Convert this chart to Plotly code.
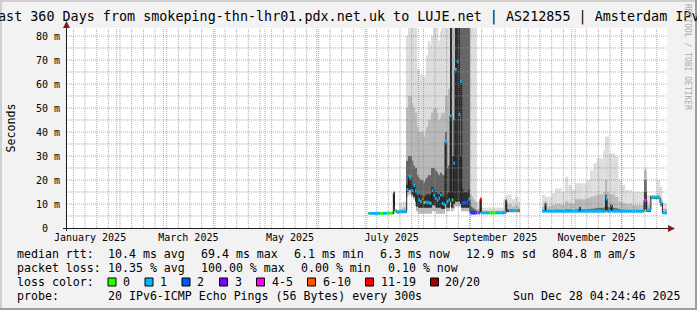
import plotly.graph_objects as go
import pandas as pd

# ---------------- canvas / layout constants ----------------
W, H = 697, 310
ML, MR, MT, MB = 67, 30, 28, 82
PW = W - ML - MR   # 600 px plot width
PH = H - MT - MB   # 200 px plot height
FONT = "DejaVu Sans Mono"

T_START = "2025-01-02 04:24:46"
T_END = "2025-12-28 04:24:46"
Y_TOP = 83.333  # ms

TITLE = "Last 360 Days from smokeping-thn-lhr01.pdx.net.uk to LUJE.net | AS212855 | Amsterdam IPv6"
Y_TITLE = "Seconds"
WATERMARK = "RRDTOOL / TOBI OETIKER"

# ---------------- axis ticks ----------------
X_LABEL_DATES = ["2025-01-16", "2025-03-16", "2025-05-16", "2025-07-16", "2025-09-16", "2025-11-16"]
X_LABELS = ["January 2025", "March 2025", "May 2025", "July 2025", "September 2025", "November 2025"]
Y_TICKS = [0, 10, 20, 30, 40, 50, 60, 70, 80]
Y_LABELS = ["0\u00a0\u00a0", "10 m", "20 m", "30 m", "40 m", "50 m", "60 m", "70 m", "80 m"]
Y_MINOR = [5, 15, 25, 35, 45, 55, 65, 75]

# ---------------- data (per time bin, ms) ----------------
BIN_START = [
    "2025-07-02 06:00", "2025-07-03", "2025-07-05", "2025-07-07", "2025-07-09", "2025-07-11",
    "2025-07-13", "2025-07-15", "2025-07-16 12:00", "2025-07-17 00:00", "2025-07-17 14:00",
    "2025-07-19", "2025-07-20 12:00", "2025-07-22 12:00",
    "2025-07-24", "2025-07-25", "2025-07-26", "2025-07-27", "2025-07-28", "2025-07-29",
    "2025-07-30", "2025-07-31", "2025-08-01", "2025-08-02", "2025-08-03", "2025-08-04",
    "2025-08-05", "2025-08-06", "2025-08-07", "2025-08-08", "2025-08-09", "2025-08-10",
    "2025-08-11", "2025-08-12", "2025-08-13", "2025-08-14", "2025-08-15", "2025-08-16",
    "2025-08-17", "2025-08-18", "2025-08-19", "2025-08-20", "2025-08-21", "2025-08-22",
    "2025-08-23", "2025-08-24", "2025-08-25", "2025-08-26", "2025-08-27", "2025-08-28",
    "2025-08-29", "2025-08-30", "2025-08-31", "2025-09-01", "2025-09-02", "2025-09-03",
    "2025-09-04", "2025-09-05", "2025-09-06", "2025-09-07 00:00", "2025-09-07 16:00",
    "2025-09-10", "2025-09-12", "2025-09-14", "2025-09-16", "2025-09-17", "2025-09-19",
    "2025-09-21", "2025-09-22 12:00", "2025-09-23", "2025-09-24", "2025-09-26", "2025-09-28",
    "2025-09-30", "2025-10-01",
    "2025-10-14 04:00", "2025-10-16 00:00", "2025-10-16 14:00", "2025-10-18", "2025-10-20",
    "2025-10-22", "2025-10-24", "2025-10-26", "2025-10-28", "2025-10-30", "2025-11-01",
    "2025-11-03", "2025-11-05", "2025-11-05 18:00", "2025-11-06 06:00", "2025-11-08",
    "2025-11-10", "2025-11-12", "2025-11-14", "2025-11-16", "2025-11-18", "2025-11-20",
    "2025-11-21 12:00", "2025-11-22 06:00", "2025-11-23", "2025-11-24 12:00", "2025-11-25 06:00",
    "2025-11-27", "2025-11-29", "2025-12-01", "2025-12-03", "2025-12-05", "2025-12-07",
    "2025-12-09", "2025-12-11", "2025-12-13", "2025-12-14 10:00", "2025-12-16",
    "2025-12-18 12:00", "2025-12-19 12:00", "2025-12-22", "2025-12-24", "2025-12-25 10:00",
]
MEDIAN = [
    6.1, 6.1, 6.1, 6.1, 6.1, 6.1, 6.2, 6.2, 6.2, 14.7, 7.3, 6.7, 6.8, 6.8,
    6.8, 16.0, 21.7, 21.4, 15.6, 17.7, 15.5, 14.5, 11.7, 11.0, 12.1, 10.6,
    10.8, 10.6, 10.5, 10.3, 15.6, 13.7, 12.4, 11.5, 12.5, 13.7, 10.3, 9.9,
    36.0, 11.0, 11.7, 46.7, 11.7, 27.0, 66.0, 69.3, 47.4, 61.0, 10.5, 10.5,
    10.5, 11.0, 12.0, 6.2, 6.2, 6.2, 6.2, 6.3, 6.3, 12.0, 6.3,
    6.3, 6.3, 6.3, 6.3, 6.3, 6.3, 6.4, 11.5, 7.3, 7.3, 7.3, 7.3, 7.3, None,
    7.0, 10.4, 7.0, 7.0, 7.0, 7.0, 7.0, 7.0, 7.0, 7.0, 7.0,
    7.0, 7.0, 8.5, 7.0, 7.0, 7.0, 7.0, 7.0, 7.0, 7.0, 7.0,
    12.0, 7.0, 7.0, 9.6, 7.0, 7.0, 7.0, 7.0, 7.0, 7.0, 7.0,
    7.0, 7.0, 7.0, 11.5, 7.5, 13.0, 12.8, 12.8, 10.4, 6.3,
]
LOSS = [
    0, 1, 1, 1, 0, 1, 0, 0, 1, 1, 0, 1, 1, 1,
    1, 1, 1, 1, 1, 1, 1, 1, 1, 1, 7, 0,
    1, 1, 1, 1, 1, 1, 1, 1, 1, 1, 1, 1,
    1, 1, 1, 1, 0, 1, 1, 1, 1, 1, 2, 2,
    2, 2, 1, 2, 2, 3, 2, 1, 5, 12, 1,
    1, 0, 0, 0, 1, 1, 1, 1, 12, 1, 1, 1, 7, None,
    1, 1, 1, 1, 1, 1, 1, 1, 1, 1, 1,
    1, 1, 1, 1, 1, 1, 1, 1, 1, 1, 1,
    1, 1, 1, 1, 1, 1, 1, 1, 1, 1, 1,
    1, 1, 1, 5, 1, 0, 1, 1, 1, 1,
]
PING_MIN = [
    5.9, 5.9, 5.9, 5.9, 5.9, 5.9, 6.0, 6.0, 6.0, 6.0, 6.4, 6.2, 6.2, 6.2,
    6.2, 13, 14, 14, 13, 12, 9, 7, 6, 6, 6, 6,
    6, 6, 6, 6, 7, 7, 7, 6, 6, 6, 6, 6,
    8, 7, 7, 9, 7, 8, 9, 9, 9, 9, 7, 7,
    7, 7, 7, 5.8, 5.8, 5.8, 5.8, 5.8, 5.8, 6.0, 5.9,
    5.9, 5.9, 5.9, 5.9, 5.9, 5.9, 5.9, 6.5, 6.5, 6.5, 6.5, 6.5, 6.5, None,
    6.6, 6.6, 6.6, 6.6, 6.6, 6.6, 6.6, 6.6, 6.6, 6.6, 6.6,
    6.6, 6.6, 6.6, 6.6, 6.6, 6.6, 6.6, 6.6, 6.6, 6.6, 6.6,
    6.6, 6.6, 6.6, 6.6, 6.6, 6.6, 6.6, 6.6, 6.6, 6.6, 6.6,
    6.6, 6.6, 6.6, 6.8, 6.8, 12.0, 12.0, 12.0, 9.0, 6.0,
]
PING_MAX = [
    6.5, 6.5, 6.5, 6.5, 6.5, 6.5, 6.6, 6.6, 6.6, 15.5, 8.0, 7.5, 10.5, 11.0,
    11.0, 80, 95, 95, 95, 95, 95, 66, 66, 64, 64, 63,
    64, 72, 78, 76, 80, 95, 95, 95, 78, 82, 95, 95,
    95, 95, 95, 95, 95, 95, 95, 95, 95, 95, 95, 95,
    95, 95, 95, 95, 95, 95, 95, 11, 11, 13, 8.5,
    8.5, 8.5, 8.5, 8.5, 8.5, 8.5, 12, 13, 14, 14, 12, 13, 11, None,
    13.75, 13, 13, 13, 14.5, 16.5, 16.5, 15, 21.4, 18, 15.8,
    18.6, 18.6, 18.6, 18.6, 18.6, 20, 24, 27, 29, 29, 32.5,
    38, 38, 31, 31, 31, 29.7, 20, 18, 15.8, 15.8, 15,
    15, 15, 15, 25, 13.75, 13.75, 13.75, 20, 17.2, 10.3,
]
PING_P90 = [
    6.3, 6.3, 6.3, 6.3, 6.3, 6.3, 6.4, 6.4, 6.4, 15.0, 7.6, 7.0, 8.0, 8.5,
    8.5, 50, 55, 55, 52, 50, 48, 42, 40, 40, 40, 38,
    40, 42, 45, 45, 48, 50, 50, 48, 45, 46, 48, 48,
    55, 55, 58, 95, 95, 95, 95, 95, 95, 95, 95, 95,
    95, 95, 95, 14, 13, 12, 11, 8, 8, 12.5, 7.2,
    7.2, 7.2, 7.2, 7.2, 7.2, 7.2, 8, 12, 10, 10, 9, 9.5, 8.5, None,
    9, 11, 9, 9, 9.5, 10, 10, 9.5, 11, 10.5, 10,
    12, 12, 12, 12, 12, 12.5, 13, 13.5, 14, 14, 15,
    20, 15, 14, 14, 14, 13, 11, 10.5, 10, 10, 9.5,
    9.5, 9.5, 9.5, 24, 9.5, 13.4, 13.3, 14, 12, 8,
]
PING_P25 = [
    6.0, 6.0, 6.0, 6.0, 6.0, 6.0, 6.1, 6.1, 6.1, 9.0, 6.8, 6.4, 6.5, 6.5,
    6.5, 15, 16, 16, 14, 13, 11, 9, 8.5, 8.5, 8.5, 8.5,
    8.5, 8.5, 8.5, 8.5, 9.5, 9.5, 9, 8.5, 8.5, 8.5, 8, 8,
    10, 8.5, 8.5, 11, 8.5, 10, 11, 11, 11, 10, 8.5, 8.5,
    8.5, 8.5, 8.5, 6.1, 6.1, 6.1, 6.1, 6.0, 6.0, 7.0, 6.0,
    6.0, 6.0, 6.0, 6.0, 6.0, 6.0, 6.1, 8.0, 6.9, 6.9, 6.9, 6.9, 6.9, None,
    6.8, 7.0, 6.8, 6.8, 6.8, 6.8, 6.8, 6.8, 6.8, 6.8, 6.8,
    6.8, 6.8, 6.9, 6.8, 6.8, 6.8, 6.8, 6.8, 6.8, 6.8, 6.8,
    7.5, 6.8, 6.8, 7.2, 6.8, 6.8, 6.8, 6.8, 6.8, 6.8, 6.8,
    6.8, 6.8, 6.8, 8.0, 7.0, 12.5, 12.4, 12.4, 9.5, 6.1,
]
PING_P75 = [
    6.2, 6.2, 6.2, 6.2, 6.2, 6.2, 6.3, 6.3, 6.3, 14.9, 7.4, 6.8, 7.1, 7.2,
    7.2, 28, 30, 30, 28, 26, 25, 22, 21, 20, 20, 19,
    20, 21, 22, 22, 25, 25, 24, 23, 22, 23, 22, 22,
    40, 25, 26, 95, 30, 45, 95, 95, 95, 95, 95, 95,
    95, 95, 95, 9, 8.5, 8, 7.5, 7, 7, 12.2, 6.6,
    6.6, 6.6, 6.6, 6.6, 6.6, 6.6, 6.8, 11.7, 7.8, 7.8, 7.7, 7.7, 7.6, None,
    7.4, 10.5, 7.4, 7.4, 7.5, 7.6, 7.6, 7.5, 7.8, 7.7, 7.5,
    7.8, 7.8, 8.6, 7.8, 7.8, 7.9, 8.0, 8.2, 8.4, 8.4, 8.6,
    14, 8.8, 8.4, 9.8, 8.4, 8.2, 7.8, 7.6, 7.5, 7.5, 7.5,
    7.5, 7.5, 7.5, 20, 7.8, 13.2, 13.1, 13.2, 10.8, 6.6,
]
PING_P60 = [
    6.15, 6.15, 6.15, 6.15, 6.15, 6.15, 6.25, 6.25, 6.25, 14.8, 7.3, 6.7, 6.9, 7.0,
    7.0, 18, 20, 20, 18, 17, 16, 15, 14, 13.5, 13.5, 13,
    13.5, 14, 14, 14, 17, 16, 15, 14, 14, 15, 13, 13,
    36, 14, 15, 95, 15, 30, 95, 95, 95, 30, 16, 15,
    15, 15, 16, 7, 7, 6.8, 6.6, 6.5, 6.5, 12.1, 6.4,
    6.4, 6.4, 6.4, 6.4, 6.4, 6.4, 6.5, 11.6, 7.5, 7.5, 7.4, 7.4, 7.4, None,
    7.2, 10.4, 7.2, 7.2, 7.2, 7.2, 7.2, 7.2, 7.3, 7.3, 7.2,
    7.3, 7.3, 8.5, 7.3, 7.3, 7.3, 7.4, 7.4, 7.5, 7.5, 7.6,
    12.5, 7.6, 7.5, 9.7, 7.5, 7.4, 7.3, 7.2, 7.2, 7.2, 7.2,
    7.2, 7.2, 7.2, 15, 7.6, 13.1, 12.9, 13.0, 10.5, 6.4,
]

# ---------------- legend texts ----------------
LEG_MEDIAN = ["median rtt:", "10.4 ms avg", "69.4 ms max", "6.1 ms min", "6.3 ms now", "12.9 ms sd", "804.8 m am/s"]
LEG_LOSS = ["packet loss:", "10.35 % avg", "100.00 % max", "0.00 % min", "0.10 % now"]
LOSS_LABELS = ["0", "1", "2", "3", "4-5", "6-10", "11-19", "20/20"]
LOSS_COLORS = ["#26ff00", "#00b8ff", "#0059ff", "#7e00ff", "#ff00ff", "#ff5500", "#ff0000", "#a10000"]
PROBE = ["probe:", "20 IPv6-ICMP Echo Pings (56 Bytes) every 300s", "Sun Dec 28 04:24:46 2025"]

# ---------------- helpers ----------------
def pxx(x):
    return (x - ML) / PW


def pxy(y):
    return (MT + PH - y) / PH


def loss_index(l):
    if l <= 3:
        return l
    if l <= 5:
        return 4
    if l <= 10:
        return 5
    if l <= 19:
        return 6
    return 7


t0 = pd.to_datetime(BIN_START, format="mixed")
t1 = list(t0[1:]) + [pd.Timestamp(T_END)]
dur = [(b - a).total_seconds() * 1000.0 for a, b in zip(t0, t1)]


def band(lo, hi, color):
    base = [l if (l is not None and h is not None) else None for l, h in zip(lo, hi)]
    hgt = [(h - l) if (l is not None and h is not None) else None for l, h in zip(lo, hi)]
    return go.Bar(x=list(t0), y=hgt, base=base, width=dur, offset=0,
                  marker=dict(color=color, line=dict(width=0)),
                  hoverinfo="skip", showlegend=False)


fig = go.Figure()
# smoke: outer -> inner
fig.add_trace(band(PING_MIN, PING_MAX, "#dddddd"))
fig.add_trace(band(PING_MIN, PING_P90, "#b9b9b9"))
fig.add_trace(band(PING_P25, PING_P75, "#666666"))
fig.add_trace(band(PING_P25, PING_P60, "#2e2e2e"))

# thin dark median line (steps)
lx, ly = [], []
for i, m in enumerate(MEDIAN):
    if m is None:
        lx.append(None)
        ly.append(None)
        continue
    lx += [t0[i], t1[i]]
    ly += [m, m]
fig.add_trace(go.Scatter(x=lx, y=ly, mode="lines", line=dict(color="#202020", width=1),
                         hoverinfo="skip", showlegend=False, connectgaps=False))

# loss-coloured median band (about 3 px tall), one trace per loss class
for k, col in enumerate(LOSS_COLORS):
    sx, sy = [], []
    for i, (m, l) in enumerate(zip(MEDIAN, LOSS)):
        if m is None or l is None or loss_index(l) != k:
            continue
        sx += [t0[i], t1[i], None]
        sy += [m, m, None]
    if sx:
        fig.add_trace(go.Scatter(x=sx, y=sy, mode="lines", line=dict(color=col, width=3),
                                 hoverinfo="skip", showlegend=False, connectgaps=False))

weekly = pd.date_range("2025-01-06", "2025-12-28", freq="7D")
months = pd.date_range("2025-02-01", "2025-12-01", freq="MS")

GRID = "rgba(143,143,143,0.75)"
MGRID = "rgba(222,79,79,0.6)"

fig.update_layout(
    width=W, height=H,
    margin=dict(l=ML, r=MR, t=MT, b=MB, pad=0),
    paper_bgcolor="#f2f2f2", plot_bgcolor="#ffffff",
    barmode="overlay", showlegend=False,
    font=dict(family=FONT, size=10, color="#000000"),
    xaxis=dict(type="date", range=[T_START, T_END], tickmode="array",
               tickvals=X_LABEL_DATES, ticktext=X_LABELS,
               tickfont=dict(family=FONT, size=10, color="#000000"), ticks="",
               ticklabelstandoff=2, showgrid=False, zeroline=False, showline=False,
               fixedrange=True),
    yaxis=dict(range=[0, Y_TOP], tickmode="array", tickvals=Y_TICKS, ticktext=Y_LABELS,
               tickfont=dict(family=FONT, size=10, color="#000000"), ticks="",
               ticklabelstandoff=6, showgrid=False, zeroline=False, showline=False,
               fixedrange=True),
)

shapes = []
# grid (drawn on top of the graph, as rrdtool does)
for d in weekly:
    shapes.append(dict(type="line", xref="x", yref="paper", x0=d, x1=d, y0=0, y1=1,
                       line=dict(color=GRID, width=1, dash="1px,1px"), layer="above"))
for d in months:
    shapes.append(dict(type="line", xref="x", yref="paper", x0=d, x1=d, y0=0, y1=1,
                       line=dict(color=MGRID, width=1, dash="1px,1px"), layer="above"))
for v in Y_MINOR:
    shapes.append(dict(type="line", xref="paper", yref="y", x0=0, x1=1, y0=v, y1=v,
                       line=dict(color=GRID, width=1, dash="1px,1px"), layer="above"))
for v in Y_TICKS[1:]:
    shapes.append(dict(type="line", xref="paper", yref="y", x0=0, x1=1, y0=v, y1=v,
                       line=dict(color=MGRID, width=1, dash="1px,1px"), layer="above"))

# 3D frame
shapes.append(dict(type="rect", xref="paper", yref="paper", x0=pxx(0), x1=pxx(W), y0=pxy(0), y1=pxy(2),
                   fillcolor="#cfcfcf", line=dict(width=0), layer="below"))
shapes.append(dict(type="rect", xref="paper", yref="paper", x0=pxx(0), x1=pxx(2), y0=pxy(0), y1=pxy(H),
                   fillcolor="#cfcfcf", line=dict(width=0), layer="below"))
shapes.append(dict(type="rect", xref="paper", yref="paper", x0=pxx(0), x1=pxx(W), y0=pxy(H - 2), y1=pxy(H),
                   fillcolor="#9e9e9e", line=dict(width=0), layer="below"))
shapes.append(dict(type="rect", xref="paper", yref="paper", x0=pxx(W - 2), x1=pxx(W), y0=pxy(0), y1=pxy(H),
                   fillcolor="#9e9e9e", line=dict(width=0), layer="below"))
# axis lines
shapes.append(dict(type="line", xref="paper", yref="paper", x0=pxx(66.5), x1=pxx(66.5), y0=pxy(231), y1=pxy(24),
                   line=dict(color="#1f1f1f", width=1), layer="above"))
shapes.append(dict(type="line", xref="paper", yref="paper", x0=pxx(63), x1=pxx(670), y0=pxy(228.5), y1=pxy(228.5),
                   line=dict(color="#1f1f1f", width=1), layer="above"))
# arrows
shapes.append(dict(type="path", xref="paper", yref="paper",
                   path="M %f %f L %f %f L %f %f Z" % (pxx(668), pxy(225), pxx(675), pxy(228.5), pxx(668), pxy(232)),
                   fillcolor="#801f1f", line=dict(width=0), layer="above"))
shapes.append(dict(type="path", xref="paper", yref="paper",
                   path="M %f %f L %f %f L %f %f Z" % (pxx(63), pxy(28), pxx(66.5), pxy(21), pxx(70), pxy(28)),
                   fillcolor="#801f1f", line=dict(width=0), layer="above"))

ann = []
LEG_SIZE = 11.6
ann.append(dict(text=TITLE, xref="paper", yref="paper", x=pxx(348.5), y=pxy(17), xanchor="center",
                yanchor="middle", showarrow=False, font=dict(family=FONT, size=13.4, color="#000000")))
ann.append(dict(text=Y_TITLE, xref="paper", yref="paper", x=pxx(10.5), y=pxy(128), xanchor="center",
                yanchor="middle", textangle=-90, showarrow=False,
                font=dict(family=FONT, size=LEG_SIZE, color="#000000")))
ann.append(dict(text=WATERMARK, xref="paper", yref="paper", x=pxx(688), y=pxy(57), xanchor="center",
                yanchor="middle", textangle=90, showarrow=False,
                font=dict(family=FONT, size=8, color="#aaaaaa")))

ROW_Y = [254, 268, 282, 296]
MED_X = [16, 107, 200, 293, 379, 465, 551]
LOSS_X = [16, 107, 200, 300, 386.5]
SW_X = [108, 145, 182, 219.5, 256.5, 307.5, 365.5, 430.5]
PROBE_X = [16, 107, 512]


def txt(s, x, y):
    ann.append(dict(text=s, xref="paper", yref="paper", x=pxx(x - 1), y=pxy(y), xanchor="left",
                    yanchor="middle", showarrow=False,
                    font=dict(family=FONT, size=LEG_SIZE, color="#000000")))


for s, x in zip(LEG_MEDIAN, MED_X):
    txt(s, x, ROW_Y[0])
for s, x in zip(LEG_LOSS, LOSS_X):
    txt(s, x, ROW_Y[1])
txt("loss color:", 16, ROW_Y[2])
for s, c, x in zip(LOSS_LABELS, LOSS_COLORS, SW_X):
    shapes.append(dict(type="rect", xref="paper", yref="paper", x0=pxx(x), x1=pxx(x + 8),
                       y0=pxy(ROW_Y[2] - 4), y1=pxy(ROW_Y[2] + 4), fillcolor=c,
                       line=dict(color="#000000", width=1), layer="above"))
    txt(s, x + 14, ROW_Y[2])
for s, x in zip(PROBE, PROBE_X):
    txt(s, x, ROW_Y[3])

fig.update_layout(shapes=shapes, annotations=ann)
fig.write_html("out.html")
